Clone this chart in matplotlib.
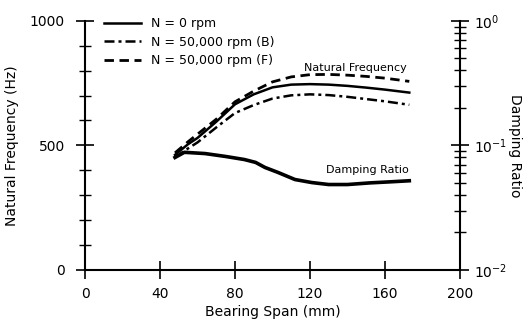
import numpy as np
import matplotlib
matplotlib.use('Agg')
import matplotlib.pyplot as plt
from matplotlib.ticker import MultipleLocator, LogLocator, NullFormatter

# data
span = [48, 55, 60, 70, 80, 90, 100, 110, 120, 130, 140, 150, 160, 173]
freq_n0 = [462, 505, 530, 595, 665, 705, 733, 744, 746, 744, 739, 732, 724, 712]
freq_b = [452, 488, 512, 572, 630, 662, 688, 701, 705, 702, 695, 686, 677, 663]
freq_f = [470, 515, 545, 605, 675, 718, 755, 775, 784, 785, 782, 777, 770, 757]

damp_span = [48, 53, 64, 75, 85, 91, 96, 103, 112, 121, 130, 140, 152, 163, 173]
damp_ratio = [0.080, 0.088, 0.086, 0.0815, 0.077, 0.073, 0.0665, 0.0606, 0.0532,
              0.0503, 0.0485, 0.0485, 0.0500, 0.0510, 0.0520]

plt.rcParams['font.family'] = 'DejaVu Sans'
plt.rcParams['font.size'] = 10

fig = plt.figure(figsize=(5.25, 3.26), dpi=100)
ax = fig.add_axes([0.162, 0.172, 0.714, 0.764])
ax2 = ax.twinx()

ax.plot(span, freq_n0, color='black', lw=1.8, ls='-', label='N = 0 rpm')
ax.plot(span, freq_b, color='black', lw=1.8, dashes=(4, 1.6, 1.2, 1.6), label='N = 50,000 rpm (B)')
ax.plot(span, freq_f, color='black', lw=2.0, dashes=(3.4, 2.0), label='N = 50,000 rpm (F)')

ax2.plot(damp_span, damp_ratio, color='black', lw=2.6)
ax2.set_yscale('log')
ax2.set_ylim(0.01, 1)

ax.set_xlim(0, 200)
ax.set_ylim(0, 1000)
ax.set_xticks([0, 40, 80, 120, 160, 200])
ax.set_yticks([0, 500, 1000])
ax.yaxis.set_minor_locator(MultipleLocator(100))

for a in (ax, ax2):
    a.spines['top'].set_visible(False)
    for s in a.spines.values():
        s.set_linewidth(1.5)
ax.spines['right'].set_visible(False)
ax2.spines['left'].set_visible(False)
ax2.spines['bottom'].set_visible(False)

ax.tick_params(axis='both', which='major', direction='inout', length=13, width=1.2, pad=8)
ax.tick_params(axis='y', which='minor', direction='inout', length=8, width=1.0)
ax.tick_params(axis='x', which='major', pad=6)
ax2.yaxis.set_minor_locator(LogLocator(base=10, subs=np.arange(2, 10)))
ax2.yaxis.set_minor_formatter(NullFormatter())
ax2.tick_params(axis='y', which='major', direction='inout', length=13, width=1.2, pad=4)
ax2.tick_params(axis='y', which='minor', direction='inout', length=8, width=1.0)

ax.set_xlabel('Bearing Span (mm)', labelpad=3)
ax.set_ylabel('Natural Frequency (Hz)', labelpad=8)
ax2.set_ylabel('Damping Ratio', rotation=270, labelpad=10)

ax.text(144, 812, 'Natural Frequency', fontsize=8, ha='center', va='center')
ax.text(150.5, 402, 'Damping Ratio', fontsize=8, ha='center', va='center')

ax.legend(loc='upper left', bbox_to_anchor=(0.02, 1.06), frameon=False,
          handlelength=3.0, handletextpad=0.8, labelspacing=0.45, fontsize=9)

fig.savefig('out.png', dpi=100)
